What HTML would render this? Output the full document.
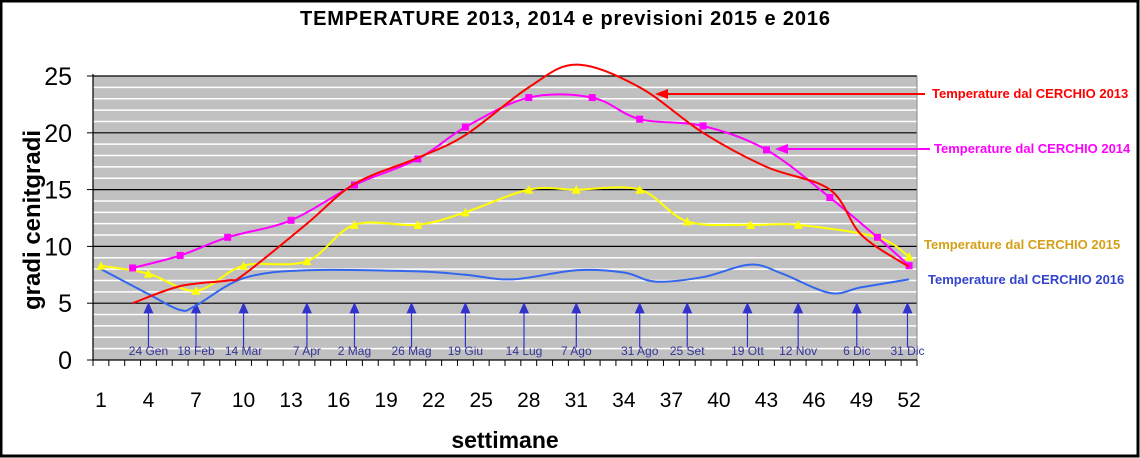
<!DOCTYPE html>
<html><head><meta charset="utf-8"><style>
html,body{margin:0;padding:0;background:#fff}
svg{display:block;font-family:"Liberation Sans",Arial,sans-serif}
</style></head><body>
<svg id="chart" width="1140" height="458" viewBox="0 0 1140 458">
<rect x="1" y="1" width="1137" height="455" fill="#fff" stroke="#000" stroke-width="3"/>
<text x="565" y="25" text-anchor="middle" font-size="20" font-weight="bold" textLength="530">TEMPERATURE 2013, 2014 e previsioni 2015 e 2016</text>
<text transform="translate(40,220) rotate(-90)" text-anchor="middle" font-size="24" font-weight="bold">gradi cenitgradi</text>
<text x="505" y="448" text-anchor="middle" font-size="23" font-weight="bold">settimane</text>
<g id="plot"></g>
</svg>
<script>
const weeks2013=[3,6,9,10,14,17,21,24,28,31,35,39,43,47,49,52];
const temps2013=[5,6.5,7,7.5,12,15.5,17.8,19.8,24,26,24,20,17,15,11,8.2];
const weeks2014=[3,6,9,13,17,21,24,28,32,35,39,43,47,50,52];
const temps2014=[8.1,9.2,10.8,12.3,15.4,17.7,20.5,23.1,23.1,21.2,20.6,18.5,14.3,10.8,8.3];
const weeks2015=[1,4,7,10,14,17,21,24,28,31,35,38,42,45,50,52];
const temps2015=[8.3,7.6,6.1,8.3,8.7,11.9,11.9,13,15,15,15,12.2,11.9,11.9,10.8,9.1];
const weeks2016=[1,4,6,7,10,14,21,24,27,31,34,36,39,42,44,47,49,52];
const temps2016=[8,5.8,4.4,4.8,7.2,7.9,7.8,7.5,7.1,7.9,7.7,6.9,7.3,8.4,7.6,5.9,6.4,7.1];
const yTicks=[0,5,10,15,20,25];
const xTickLabels=[1,4,7,10,13,16,19,22,25,28,31,34,37,40,43,46,49,52];
const eventWeeks=[4,7,10,14,17,20.6,24,27.7,31,35,38,41.8,45,48.7,51.9];
const eventLabels=["24 Gen","18 Feb","14 Mar","7 Apr","2 Mag","26 Mag","19 Giu","14 Lug","7 Ago","31 Ago","25 Set","19 Ott","12 Nov","6 Dic","31 Dic"];

const L=93,R=917,T=76,B=360,N=52;
const cw=(R-L)/N;
const xs=w=>L+(w-0.5)*cw;
const ys=v=>B-(v/25)*(B-T);
const NS="http://www.w3.org/2000/svg";
const plot=document.getElementById('plot');
function mk(tag,attrs,parent){const e=document.createElementNS(NS,tag);for(const k in attrs)e.setAttribute(k,attrs[k]);(parent||plot).appendChild(e);return e;}

const bg=mk('rect',{x:L,y:T,width:R-L,height:B-T,fill:'#c0c0c0'});


for(let v=1;v<=25;v++){
  const g=mk('line',{x1:L,x2:R,y1:ys(v),y2:ys(v),stroke:v%5===0?'#000':'#fff','stroke-width':v%5===0?1.2:1.5});
  
  
}
mk('line',{x1:R,x2:R,y1:T,y2:B,stroke:'#888'});
const ya=mk('line',{x1:L,x2:L,y1:T-2,y2:B,stroke:'#000','stroke-width':1.2});


const xa=mk('line',{x1:L,x2:R,y1:B,y2:B,stroke:'#000','stroke-width':1.2});


yTicks.forEach(v=>{
  mk('line',{x1:L-6,x2:L,y1:ys(v),y2:ys(v),stroke:'#000'});
  const t=mk('text',{x:L-21,y:ys(v)+9,'text-anchor':'end','font-size':25});
  t.textContent=v;
  
  
});
for(let i=0;i<=N;i++){mk('line',{x1:L+i*cw,x2:L+i*cw,y1:B,y2:B+6,stroke:'#000'});}
xTickLabels.forEach(w=>{
  const t=mk('text',{x:xs(w),y:407,'text-anchor':'middle','font-size':21});
  t.textContent=w;
  
  
});

eventWeeks.forEach((w,i)=>{
  const x=xs(w);
  const a=mk('line',{x1:x,x2:x,y1:ys(1.1),y2:ys(4.6),stroke:'#3333cc','stroke-width':1.2});
  
  
  const h=mk('polygon',{points:`${x-5},${ys(4.1)} ${x+5},${ys(4.1)} ${x},${ys(5.1)}`,fill:'#3333cc'});
  
  
  const t=mk('text',{x:x,y:355,'text-anchor':'middle','font-size':12,fill:'#333399'});
  t.textContent=eventLabels[i];
  
  
});

function smooth(pts){
  let d=`M${pts[0][0]},${pts[0][1]}`;
  for(let i=0;i<pts.length-1;i++){
    const p0=pts[Math.max(0,i-1)],p1=pts[i],p2=pts[i+1],p3=pts[Math.min(pts.length-1,i+2)];
    const t=1/6;
    d+=` C${p1[0]+(p2[0]-p0[0])*t},${p1[1]+(p2[1]-p0[1])*t} ${p2[0]-(p3[0]-p1[0])*t},${p2[1]-(p3[1]-p1[1])*t} ${p2[0]},${p2[1]}`;
  }
  return d;
}
function series(wk,vals,color,name,marker){
  const pts=wk.map((w,i)=>[xs(w),ys(vals[i])]);
  const p=mk('path',{d:smooth(pts),fill:'none',stroke:color,'stroke-width':2});
  
  
  if(marker==='sq')pts.forEach(q=>{const m=mk('rect',{x:q[0]-3.5,y:q[1]-3.5,width:7,height:7,fill:color});
    
    });
  if(marker==='tri')pts.forEach(q=>{const m=mk('polygon',{points:`${q[0]-4.5},${q[1]+4} ${q[0]+4.5},${q[1]+4} ${q[0]},${q[1]-4.5}`,fill:color});
    
    });
}
series(weeks2016,temps2016,'#3366ee','series-2016',null);
series(weeks2015,temps2015,'#ffff00','series-2015','tri');
series(weeks2014,temps2014,'#ff00ff','series-2014','sq');
series(weeks2013,temps2013,'#ff0000','series-2013',null);

function lab(x,y,txt,color,name){
  const t=mk('text',{x:x,y:y,'font-size':13,'font-weight':'bold',fill:color});
  t.textContent=txt;
  
  
}
mk('line',{x1:925,x2:665,y1:94,y2:94,stroke:'#ff0000','stroke-width':2});
mk('polygon',{points:'655,94 668,89 668,99',fill:'#ff0000'});
mk('line',{x1:930,x2:785,y1:149,y2:149,stroke:'#ff00ff','stroke-width':2});
mk('polygon',{points:'775,149 788,144 788,154',fill:'#ff00ff'});
lab(932,98,'Temperature dal CERCHIO 2013','#ff0000','legend-2013');
lab(934,153,'Temperature dal CERCHIO 2014','#ff00ff','legend-2014');
lab(924,249,'Temperature dal CERCHIO 2015','#d4a017','legend-2015');
lab(928,284,'Temperature dal CERCHIO 2016','#3344cc','legend-2016');
</script>
</body></html>
